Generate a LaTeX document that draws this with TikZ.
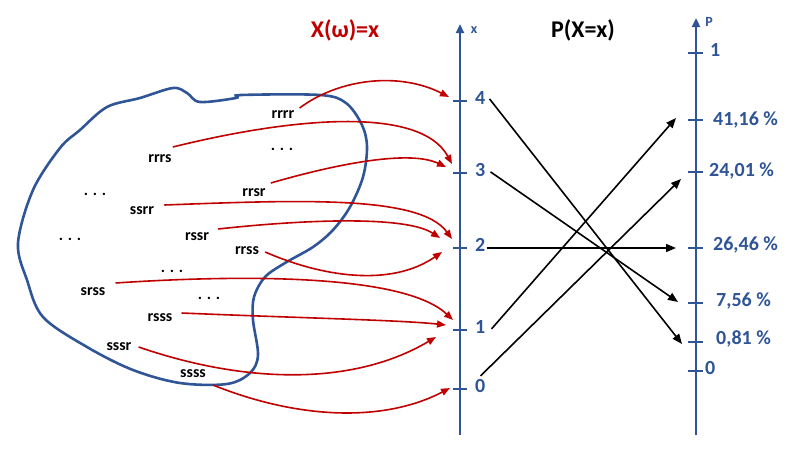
\documentclass[tikz,border=0pt]{standalone}
\usepackage{fontspec}
\setmainfont{Carlito}
\usetikzlibrary{arrows.meta}
\definecolor{axblue}{HTML}{2F5597}
\definecolor{myred}{HTML}{C00000}
\begin{document}
\begin{tikzpicture}[x=1pt,y=-1pt,
  axisline/.style={axblue, line width=2.6pt, -{Triangle[length=9pt,width=8pt]}},
  tickline/.style={axblue, line width=2pt},
  blob/.style={axblue, line width=2.6pt},
  redarrow/.style={myred, line width=1.6pt, -{Triangle[length=9pt,width=7pt]}},
  blackarrow/.style={black, line width=1.6pt, -{Triangle[length=10pt,width=8pt]}},
  omega/.style={font=\fontsize{16}{18}\selectfont\bfseries, inner sep=0pt},
  dotsnode/.style={font=\fontsize{16}{18}\selectfont\bfseries, inner sep=0pt},
  ticklabel/.style={axblue, font=\fontsize{20}{22}\selectfont\bfseries, inner sep=0pt, anchor=mid west},
  axislabel/.style={axblue, font=\fontsize{14}{16}\selectfont\bfseries, inner sep=0pt},
  title/.style={font=\fontsize{24}{28}\selectfont\bfseries, inner sep=0pt}
]
\useasboundingbox (0,0) rectangle (793,461);

% sample space blob
\draw[blob] plot[smooth cycle, tension=0.55] coordinates {
 (18,243) (27,280) (43,317) (87,347) (133,370) (180,383) (227,384) (250,373) (258,355)
 (253,320) (254,297) (265,277) (285,263) (313,247) (333,230) (350,207) (363,177)
 (367,147) (362,125) (346,103) (320,95) (241,95) (236,98) (200,102) (187,93) (173,88)
 (140,98) (107,107) (80,130) (60,148) (33,190)};

% titles
\node[title, myred] (t1) at (345,30) {X(ω)=x};
\node[title] (t2) at (583,30) {P(X=x)};

% x axis
\coordinate (xb) at (460,435);
\coordinate (xt) at (460,24);
\draw[axisline] (xb) -- (xt);
\node[axislabel] (xl) at (474,30) {x};
\foreach \v/\y in {4/101,3/173,2/248,1/330,0/389}{
  \draw[tickline] (453,\y) -- (467,\y);
  \node[ticklabel] (x\v) at (475,\y+1) {\v};
}

% P axis
\coordinate (pb) at (696,435);
\coordinate (pt) at (696,18);
\draw[axisline] (pb) -- (pt);
\node[axislabel] (pl) at (709,22) {P};
\foreach \n/\y in {one/53,a/120,b/172,c/248,d/303,e/342,zero/371}{
  \draw[tickline] (688,\y) -- (703,\y);
  \coordinate (p\n) at (683,\y);
}
\node[ticklabel] (lone) at (710,54) {1};
\node[ticklabel] (la) at (713,123) {41,16 \%};
\node[ticklabel] (lb) at (709,174) {24,01 \%};
\node[ticklabel] (lc) at (713,248) {26,46 \%};
\node[ticklabel] (ld) at (716,304) {7,56 \%};
\node[ticklabel] (le) at (716,342) {0,81 \%};
\node[ticklabel] (lzero) at (705,372) {0};

% outcomes
\node[omega] (rrrr) at (283,115) {rrrr};
\node[omega] (rrrs) at (160,159) {rrrs};
\node[omega] (rrsr) at (254,193) {rrsr};
\node[omega] (ssrr) at (142,211) {ssrr};
\node[omega] (rssr) at (197,237) {rssr};
\node[omega] (rrss) at (247,251) {rrss};
\node[omega] (srss) at (93,292) {srss};
\node[omega] (rsss) at (160,318) {rsss};
\node[omega] (sssr) at (119,347) {sssr};
\node[omega] (ssss) at (193,374) {ssss};
\node[dotsnode] (d1) at (282,149) {. . .};
\node[dotsnode] (d2) at (95,194) {. . .};
\node[dotsnode] (d3) at (70,239) {. . .};
\node[dotsnode] (d4) at (172,271) {. . .};
\node[dotsnode] (d5) at (209,298) {. . .};

% red mapping arrows
\coordinate (e4) at (449,97);
\coordinate (e3a) at (452,164);
\coordinate (e3b) at (446,167);
\coordinate (e2a) at (452,239);
\coordinate (e2b) at (440,238);
\coordinate (e2c) at (442,252);
\coordinate (e1a) at (453,320);
\coordinate (e1b) at (446,325);
\coordinate (e1c) at (436,337);
\coordinate (e0) at (450,388);
\draw[redarrow] ([xshift=5pt,yshift=7pt]rrrr.east) .. controls (340,78) and (400,72) .. (e4);
\draw[redarrow] ([xshift=1pt,yshift=12pt]rrrs.east) .. controls (290,118) and (420,105) .. (e3a);
\draw[redarrow] ([xshift=5pt,yshift=10pt]rrsr.east) .. controls (340,163) and (410,150) .. (e3b);
\draw[redarrow] ([xshift=10pt,yshift=6pt]ssrr.east) .. controls (300,200) and (420,195) .. (e2a);
\draw[redarrow] ([xshift=9pt,yshift=8pt]rssr.east) .. controls (300,220) and (405,215) .. (e2b);
\draw[redarrow] ([xshift=6pt,yshift=-1pt]rrss.east) .. controls (320,276) and (390,288) .. (e2c);
\draw[redarrow] ([xshift=10pt,yshift=9pt]srss.east) .. controls (250,274) and (405,275) .. (e1a);
\draw[redarrow] ([xshift=9pt,yshift=5pt]rsss.east) .. controls (300,318) and (400,320) .. (e1b);
\draw[redarrow] ([xshift=7pt]sssr.east) .. controls (240,382) and (350,388) .. (e1c);
\draw[redarrow] ([xshift=7pt,yshift=-11pt]ssss.east) .. controls (300,420) and (385,422) .. (e0);

% black probability arrows
\draw[blackarrow] ([xshift=4pt,yshift=-1pt]x4.east) -- ([xshift=-1pt,yshift=-2pt]pe);
\draw[blackarrow] ([xshift=5pt,yshift=-2pt]x3.east) -- ([xshift=-5pt,yshift=1pt]pd);
\draw[blackarrow] ([xshift=1pt]x2.east |- pc) -- ([xshift=-7pt]pc);
\draw[blackarrow] ([xshift=6pt,yshift=-2pt]x1.east) -- ([xshift=-7pt,yshift=2pt]pa);
\draw[blackarrow] ([xshift=-5pt,yshift=10pt]x0.east) -- ([xshift=-2pt,yshift=-7pt]pb);
\end{tikzpicture}
\end{document}
